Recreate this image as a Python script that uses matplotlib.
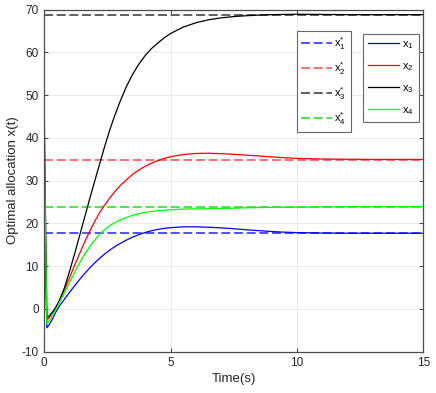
import matplotlib
matplotlib.use('Agg')
import matplotlib.pyplot as plt

plt.rcParams['font.family'] = ['Liberation Sans', 'DejaVu Sans']
plt.rcParams['mathtext.default'] = 'regular'
plt.rcParams['axes.unicode_minus'] = False

# time samples
t = [0, 0.1, 0.2, 0.3, 0.45, 0.6, 0.8, 1.0, 1.2, 1.4, 1.6, 1.8, 2.0, 2.2, 2.4, 2.6,
     2.8, 3.0, 3.25, 3.5, 3.75, 4.0, 4.25, 4.5, 4.75, 5.0, 5.5, 6.0, 6.5, 7.0, 7.5,
     8.0, 8.5, 9.0, 9.5, 10.0, 11.0, 12.0, 13.0, 14.0, 15.0]

x1 = [20, -4.4, -3.6, -2.6, -0.8, 0.7, 2.3, 3.9, 5.4, 6.9, 8.3, 9.6, 10.8, 11.9, 12.9, 13.8,
      14.6, 15.3, 16.1, 16.8, 17.4, 17.9, 18.3, 18.6, 18.85, 19.0, 19.2, 19.2, 19.1, 18.95, 18.75,
      18.5, 18.3, 18.1, 17.95, 17.85, 17.75, 17.7, 17.7, 17.7, 17.7]
x2 = [28, -2.6, -2.0, -1.1, 0.3, 1.9, 4.5, 7.3, 10.2, 13.0, 15.7, 18.2, 20.5, 22.6, 24.4, 26.0,
      27.5, 28.8, 30.2, 31.5, 32.5, 33.4, 34.1, 34.7, 35.2, 35.6, 36.1, 36.35, 36.4, 36.3, 36.15,
      35.95, 35.75, 35.55, 35.35, 35.2, 35.05, 35.0, 34.95, 34.95, 34.95]
x3 = [45, -2.0, -1.6, -0.9, 0.3, 2.0, 5.0, 8.8, 12.9, 17.2, 21.5, 25.8, 30.0, 34.1, 38.2, 42.0,
      45.4, 48.5, 52.0, 54.9, 57.3, 59.3, 60.9, 62.2, 63.4, 64.4, 65.9, 66.9, 67.6, 68.05, 68.35,
      68.55, 68.7, 68.8, 68.85, 68.9, 68.85, 68.8, 68.8, 68.8, 68.8]
x4 = [40, -3.5, -2.8, -1.8, -0.2, 1.5, 3.8, 6.2, 8.6, 10.8, 12.8, 14.6, 16.1, 17.5, 18.6, 19.5,
      20.2, 20.8, 21.4, 21.9, 22.3, 22.6, 22.8, 23.0, 23.1, 23.2, 23.35, 23.4, 23.45, 23.5, 23.55,
      23.65, 23.7, 23.75, 23.8, 23.8, 23.85, 23.9, 23.9, 23.9, 23.9]

# optimal values x*
x_star = [17.7, 34.9, 68.7, 23.85]

solid_colors = ['#0000ff', '#ff0000', '#000000', '#00ff00']
dash_colors = ['#3333ff', '#ff5a5a', '#444444', '#33dd33']

fig = plt.figure(figsize=(4.36, 3.93), dpi=100)
ax = fig.add_axes([0.1016, 0.105, 0.8693, 0.8708])

star_lines = []
for i, v in enumerate(x_star):
    ln, = ax.plot([0, 15], [v, v], color=dash_colors[i], lw=1.2, dashes=(5.4, 2.2),
                  label=r'$x_{%d}^{*}$' % (i + 1))
    star_lines.append(ln)

sol_lines = []
for i, y in enumerate([x1, x2, x3, x4]):
    ln, = ax.plot(t, y, color=solid_colors[i], lw=0.9, label=r'$x_{%d}$' % (i + 1))
    sol_lines.append(ln)

ax.set_xlim(0, 15)
ax.set_ylim(-10, 70)
ax.set_xticks([0, 5, 10, 15])
ax.set_yticks(range(-10, 71, 10))
ax.grid(True, color='0.9', lw=0.6)
ax.tick_params(direction='in', length=3, top=True, right=True, labelsize=8.5,
               colors='0.15', width=0.6, pad=4)
for s in ax.spines.values():
    s.set_color('0.3')
    s.set_linewidth(0.9)
ax.set_xlabel('Time(s)', fontsize=9.5, color='0.15', labelpad=3)
ax.set_ylabel('Optimal allocation x(t)', fontsize=9.5, color='0.15', labelpad=2)

leg1 = ax.legend(handles=star_lines, loc='upper left', bbox_to_anchor=(0.666, 0.938),
                 borderaxespad=0, fontsize=8, fancybox=False, edgecolor='0.4',
                 framealpha=1, handlelength=2.8, handletextpad=0.2, labelspacing=0.75,
                 borderpad=0.4)
leg1.get_frame().set_linewidth(0.8)
ax.add_artist(leg1)
leg2 = ax.legend(handles=sol_lines, loc='upper left', bbox_to_anchor=(0.840, 0.9275),
                 borderaxespad=0, fontsize=8, fancybox=False, edgecolor='0.4',
                 framealpha=1, handlelength=2.8, handletextpad=0.3, labelspacing=0.92,
                 borderpad=0.45)
leg2.get_frame().set_linewidth(0.8)

plt.savefig('out.png', dpi=100)
